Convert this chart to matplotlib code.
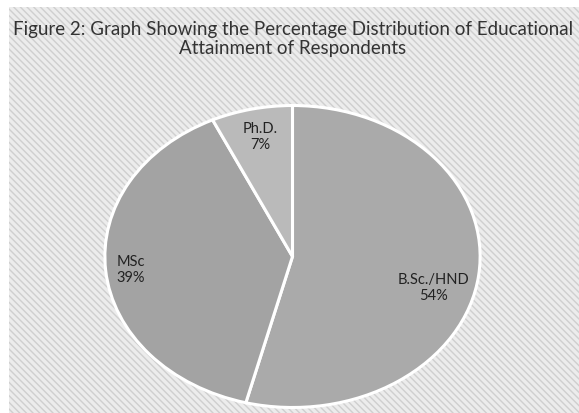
import matplotlib
matplotlib.use("Agg")
import matplotlib.pyplot as plt
from matplotlib.patches import Rectangle
import numpy as np

categories = ["B.Sc./HND", "MSc", "Ph.D."]
values = [54, 39, 7]
colors = ["#aaaaaa", "#a3a3a3", "#bababa"]
label_pos = [(0.75, -0.20), (-0.86, -0.085), (-0.17, 0.80)]

plt.rcParams['hatch.color'] = '#cfcfcf'
plt.rcParams['hatch.linewidth'] = 1.0

fig = plt.figure(figsize=(5.79, 4.14), dpi=100)
fig.patch.set_facecolor('white')
bg = Rectangle((9/579, 0), 1 - 9/579, 1 - 8/414, transform=fig.transFigure,
               facecolor='#ececec', edgecolor='#cfcfcf', hatch='\\\\\\\\\\', lw=0, zorder=-5)
fig.patches.append(bg)

fig.text(293/579, 1 - 39/414, "Figure 2: Graph Showing the Percentage Distribution of Educational\nAttainment of Respondents",
         ha='center', va='center', fontsize=13.5, family='Lato', color='#333333', linespacing=1.1)

ax = fig.add_axes([103/579, 4/414, 379/579, 305/414], zorder=2)
ax.set_facecolor('none')
wedges, _ = ax.pie(values, colors=colors, startangle=90, counterclock=False,
                   wedgeprops=dict(edgecolor='white', linewidth=2.2))
ax.set_aspect('auto')
ax.set_xlim(-1.01, 1.01)
ax.set_ylim(-1.01, 1.01)
ax.axis('off')

for cat, v, (x, y) in zip(categories, values, label_pos):
    ax.text(x, y, f"{cat}\n{v}%", ha='center', va='center', fontsize=10.5,
            family='Lato', color='#222222', linespacing=1.2)

fig.savefig("out.png", dpi=100)
